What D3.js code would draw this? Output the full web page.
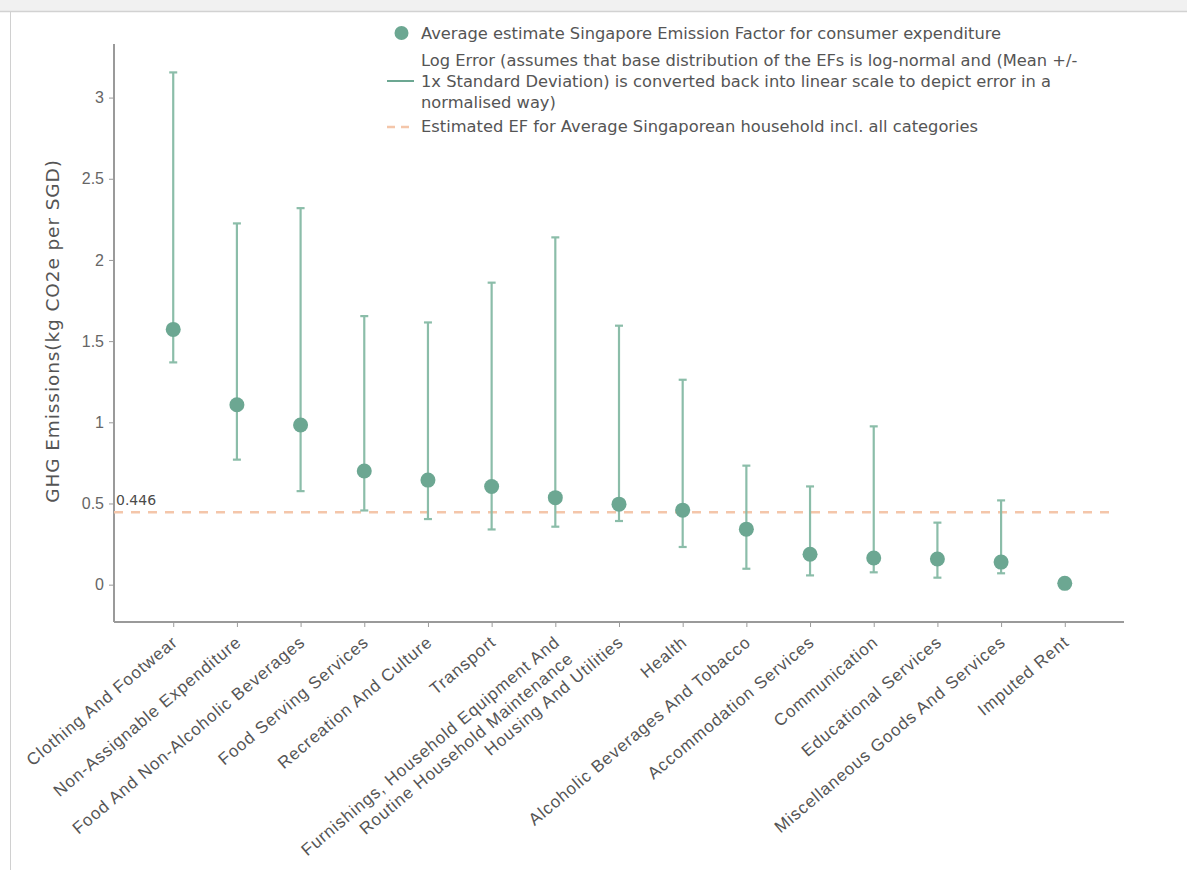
<!DOCTYPE html>
<html>
<head>
<meta charset="utf-8">
<script src="https://cdn.jsdelivr.net/npm/d3@7"></script>
<style>
  html, body { margin: 0; padding: 0; background: #fff; }
  svg { display: block; font-family: "DejaVu Sans", sans-serif; }
</style>
</head>
<body>
<svg id="chart" width="1187" height="870"></svg>
<script>
// Consumer expenditure categories, in plotted order
const categories = [
  "Clothing And Footwear",
  "Non-Assignable Expenditure",
  "Food And Non-Alcoholic Beverages",
  "Food Serving Services",
  "Recreation And Culture",
  "Transport",
  "Furnishings, Household Equipment And\nRoutine Household Maintenance",
  "Housing And Utilities",
  "Health",
  "Alcoholic Beverages And Tobacco",
  "Accommodation Services",
  "Communication",
  "Educational Services",
  "Miscellaneous Goods And Services",
  "Imputed Rent"
];
// Average emission factor (kg CO2e per SGD)
const meanEF  = [1.572, 1.108, 0.983, 0.700, 0.644, 0.605, 0.536, 0.496, 0.459, 0.342, 0.187, 0.164, 0.158, 0.139, 0.008];
// Log-normal error band, converted back to linear scale
const lowerEF = [1.369, 0.770, 0.576, 0.457, 0.404, 0.340, 0.357, 0.392, 0.232, 0.098, 0.057, 0.076, 0.043, 0.070, null];
const upperEF = [3.155, 2.225, 2.319, 1.654, 1.615, 1.860, 2.139, 1.595, 1.262, 0.733, 0.605, 0.975, 0.382, 0.519, null];
// Household-wide average emission factor
const averageEF = 0.446;
const yTicks = [0, 0.5, 1, 1.5, 2, 2.5, 3];
const yTitle = "GHG Emissions(kg CO2e per SGD)";
const legendItems = [
  ["Average estimate Singapore Emission Factor for consumer expenditure"],
  ["Log Error (assumes that base distribution of the EFs is log-normal and (Mean +/-",
   "1x Standard Deviation) is converted back into linear scale to depict error in a",
   "normalised way)"],
  ["Estimated EF for Average Singaporean household incl. all categories"]
];

const rows = categories.map((c, i) => ({ cat: c, mean: meanEF[i], lo: lowerEF[i], hi: upperEF[i] }));

const svg = d3.select("#chart");
const GREEN = "#6ca792", BAR = "#8bbda9", PEACH = "#f4c6aa", AXIS = "#9a9a9a", TEXT = "#555";

// page frame: light header strip and left rule
svg.append("rect").attr("x", 0).attr("y", 0).attr("width", 1187).attr("height", 11).attr("fill", "#f1f1f1");
svg.append("line").attr("x1", 0).attr("x2", 1187).attr("y1", 11.5).attr("y2", 11.5).attr("stroke", "#d2d2d2").attr("stroke-width", 1.5);
svg.append("line").attr("x1", 10.5).attr("x2", 10.5).attr("y1", 12).attr("y2", 870).attr("stroke", "#d0d0d0");

const plotLeft = 114, plotRight = 1124, plotTop = 44, plotBottom = 622;
const x = d3.scalePoint().domain(categories).range([plotLeft, plotRight]).padding(0.93);
const y = d3.scaleLinear().domain([-0.23, 3.33]).range([plotBottom, plotTop]);

// y axis
const yAxis = svg.append("g").attr("transform", `translate(${plotLeft},0)`)
  .call(d3.axisLeft(y).tickValues(yTicks).tickSize(5).tickPadding(5).tickFormat(d3.format("")));
yAxis.select(".domain").attr("stroke", AXIS).attr("stroke-width", 2).attr("d", `M0,${plotTop}V${plotBottom}`);
yAxis.selectAll(".tick line").attr("stroke", AXIS);
yAxis.selectAll(".tick text").attr("fill", "#666").style("font-size", "16px");

// x axis
const xAxis = svg.append("g").attr("transform", `translate(0,${plotBottom})`)
  .call(d3.axisBottom(x).tickSize(5).tickFormat(""));
xAxis.select(".domain").attr("stroke", AXIS).attr("stroke-width", 2).attr("d", `M${plotLeft},0H${plotRight}`);
xAxis.selectAll(".tick line").attr("stroke", AXIS);

// rotated category labels
const lab = xAxis.selectAll(".tick").append("text")
  .attr("transform", "translate(5,22) rotate(-40)")
  .attr("text-anchor", "end")
  .attr("fill", TEXT)
  .style("font-size", "17px")
  .style("letter-spacing", "0.9px");
lab.each(function(d) {
  const t = d3.select(this);
  d.split("\n").forEach((line, i) => {
    t.append("tspan").attr("x", 0).attr("dy", i === 0 ? 0 : "1.25em").text(line);
  });
});

// y axis title
svg.append("text")
  .attr("transform", "translate(59,331) rotate(-90)")
  .attr("text-anchor", "middle")
  .attr("fill", TEXT)
  .style("font-size", "18.5px")
  .style("letter-spacing", "0.9px")
  .text(yTitle);

// reference line for the average household
svg.append("line")
  .attr("x1", plotLeft).attr("x2", 1117)
  .attr("y1", y(averageEF)).attr("y2", y(averageEF))
  .attr("stroke", PEACH).attr("stroke-width", 2.5).attr("stroke-dasharray", "9,8");
svg.append("text")
  .attr("x", plotLeft + 2).attr("y", y(averageEF) - 7)
  .attr("fill", "#4a4a4a").style("font-size", "14px")
  .text(d3.format(".3f")(averageEF));

// error bars
const eb = svg.append("g").selectAll("g").data(rows.filter(r => r.lo != null)).join("g")
  .attr("stroke", BAR).attr("stroke-width", 2.2);
eb.append("line").attr("x1", d => x(d.cat)).attr("x2", d => x(d.cat))
  .attr("y1", d => y(d.lo)).attr("y2", d => y(d.hi));
eb.append("line").attr("x1", d => x(d.cat) - 4).attr("x2", d => x(d.cat) + 4)
  .attr("y1", d => y(d.hi)).attr("y2", d => y(d.hi));
eb.append("line").attr("x1", d => x(d.cat) - 4).attr("x2", d => x(d.cat) + 4)
  .attr("y1", d => y(d.lo)).attr("y2", d => y(d.lo));

// mean markers
svg.append("g").selectAll("circle").data(rows).join("circle")
  .attr("cx", d => x(d.cat)).attr("cy", d => y(d.mean)).attr("r", 7.5)
  .attr("fill", GREEN);

// legend
const lg = svg.append("g").attr("fill", TEXT).style("font-size", "16.3px");
const lineH = 21;
lg.append("circle").attr("cx", 401.5).attr("cy", 33).attr("r", 7).attr("fill", GREEN);
lg.append("line").attr("x1", 387).attr("x2", 414).attr("y1", 81).attr("y2", 81).attr("stroke", GREEN).attr("stroke-width", 2);
lg.append("line").attr("x1", 387).attr("x2", 414).attr("y1", 127).attr("y2", 127)
  .attr("stroke", PEACH).attr("stroke-width", 2.5).attr("stroke-dasharray", "8,6");
const legendY = [38.5, 65.5, 132];
legendItems.forEach((lines, i) => {
  lines.forEach((ln, j) => {
    lg.append("text").attr("x", 421).attr("y", legendY[i] + j * lineH).text(ln);
  });
});
</script>
</body>
</html>
